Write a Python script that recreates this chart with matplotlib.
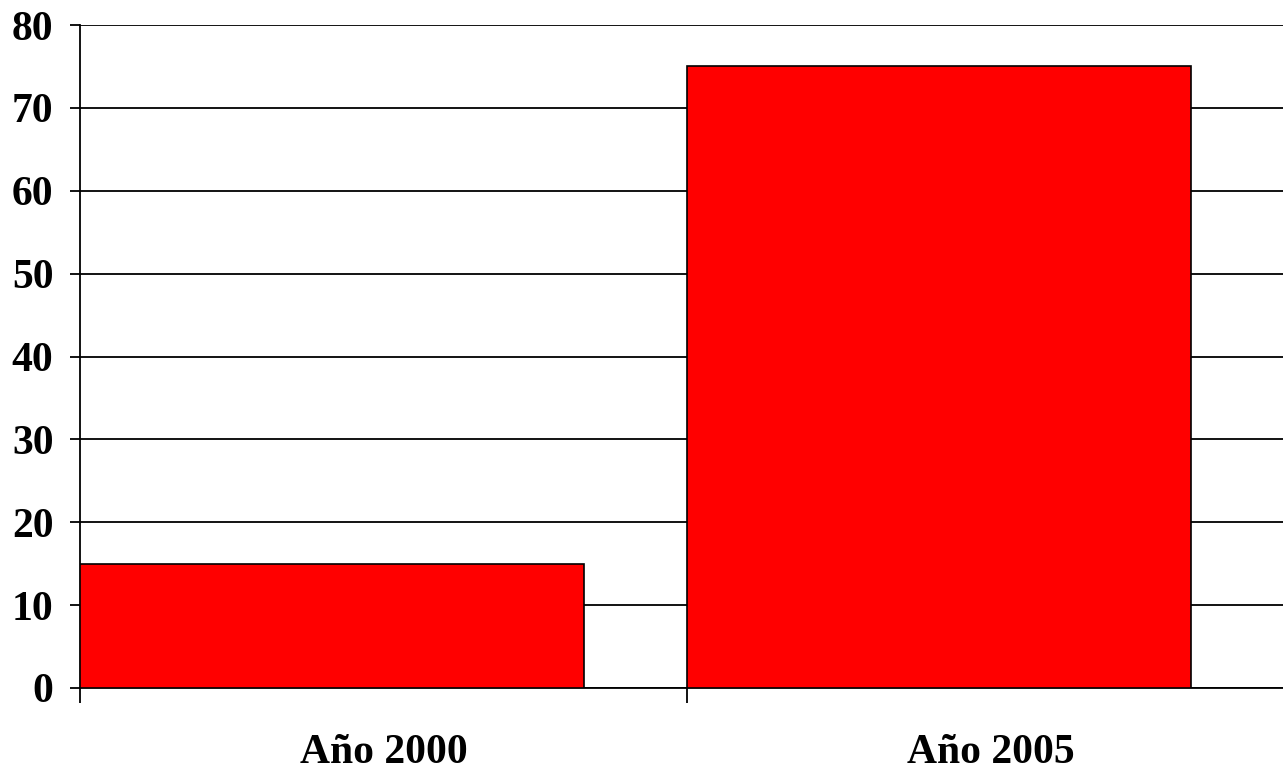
import matplotlib.pyplot as plt
import numpy as np

categorias = ['Año 2000', 'Año 2005']
valores = [15, 75]
yticks = [0, 10, 20, 30, 40, 50, 60, 70, 80]

plt.rcParams['font.family'] = ['Liberation Serif', 'DejaVu Serif']
plt.rcParams['font.weight'] = 'bold'

fig = plt.figure(figsize=(12.83, 7.75), dpi=100)
# the plot area runs a bit past the right edge of the picture, like the original
ax = fig.add_axes([80 / 1283, 87 / 775, 1214 / 1283, 663 / 775])

x = np.arange(len(categorias))
ax.bar(x, valores, width=0.83, align='edge', color='#ff0000',
       edgecolor='black', linewidth=1.2, zorder=3)

ax.set_xlim(0, len(categorias))
ax.set_ylim(0, 80)
ax.set_yticks(yticks)
ax.yaxis.grid(True, color='black', linewidth=1.3, zorder=0)
ax.set_axisbelow(True)

ax.set_xticks(np.arange(len(categorias) + 1))
ax.set_xticklabels([])
ax.set_xticks(x + 0.5, minor=True)
ax.set_xticklabels(categorias, minor=True)
ax.tick_params(axis='x', which='major', direction='out', length=11, width=1.3)
ax.tick_params(axis='x', which='minor', length=0, pad=54, labelsize=30)
plt.setp(ax.get_xticklabels(minor=True), va='baseline')
ax.tick_params(axis='y', direction='out', length=7, width=1.3, pad=12, labelsize=30)

for s in ['top', 'right']:
    ax.spines[s].set_visible(False)
for s in ['left', 'bottom']:
    ax.spines[s].set_linewidth(1.3)

fig.savefig('out.png', dpi=100)
